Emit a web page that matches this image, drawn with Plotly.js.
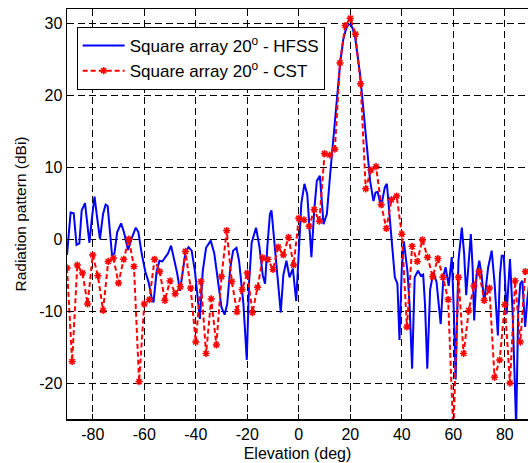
<!DOCTYPE html>
<html>
<head>
<meta charset="utf-8">
<script src="https://cdn.plot.ly/plotly-3.0.1.min.js"></script>
<style>html,body{margin:0;padding:0;background:#fff;}#chart{width:528px;height:463px;}</style>
</head>
<body>
<div id="chart"></div>
<script>
// HFSS (solid blue)
const elevHFSS = [-90,-89.3,-88.6,-87.4,-86.3,-85.2,-84.3,-83.0,-82.2,-81.3,-80.3,-79.3,-78.3,-77.2,-76,-75.0,-74.2,-73.3,-72.5,-71.6,-70.5,-69,-67.9,-66.3,-65.0,-63.3,-62.3,-61,-59.6,-58.3,-57.2,-56.4,-55.2,-54.1,-53,-52,-50.8,-49.6,-48.5,-47.3,-46.1,-45,-44,-42.8,-41.6,-40.3,-39.3,-38.4,-37.3,-36,-34.2,-32.8,-31.5,-30,-28.8,-27.8,-26.6,-25.5,-24.2,-23.2,-21.5,-20.2,-19.3,-18.3,-16.6,-15.3,-14,-13.1,-12.2,-11.2,-10.6,-9.6,-8.3,-7.0,-6,-4.8,-3.6,-2.3,-1.0,0,1,2.2,3.3,4.9,6,7,8.2,9.6,10.9,12.2,13.5,14.8,16.1,17.3,18.4,19.3,20.2,21.0,21.9,23.8,25.1,26.4,27.7,29,29.8,30.6,31.5,32.4,33.4,34.2,35.2,36.1,37.3,38.3,39.1,40.0,40.8,42.2,43.0,44.0,45.0,46.3,47.4,48.3,49.0,49.9,51.0,52.3,53.5,55.1,56.2,57.0,58.2,59.4,60.2,60.9,62,63.3,64.2,65.0,66.8,67.5,68.1,69,70.1,71.0,72.0,73.5,74.9,76,77.3,78.1,78.8,79.6,80.7,82.0,83,84.4,85.2,86.0,86.8,87.9,88.7,89.5];
const gainHFSS = [-2.2,1.5,3.7,3.6,-0.8,-0.6,4.0,5.0,2,-0.5,3,5.9,3,0,3.5,4.8,4.6,1,-2.3,-2.0,1,2.2,1,-1.5,0,1.6,1.0,-2,-4.5,-6.0,-8,-8.8,-4.5,-3.0,-3.1,-2.6,-2.0,-0.9,-2.5,-4.6,-7.2,-4.5,-1.8,-1.1,-1.6,-4.5,-8,-11.1,-4.5,-1.2,-0.2,-2,-5.5,-9.5,-10.5,-9,-4,-1.6,-1.2,-3,-9,-16.8,-6,-0.5,1.6,-1,-5,-6.2,-1,3.5,4.0,0,-5.5,-10.2,-5,-3.0,-5.3,-4.1,-8.6,-1,5,7.7,6.2,-2.5,4,8.1,8.8,2.1,3.5,9.1,14.6,19.7,24.6,27.8,29.3,29.8,29.9,29.2,28.0,22.9,17.8,12.3,8.1,5.3,6.5,6.6,5.2,5.3,7.2,7.7,4,-0.3,-5.3,-6.2,-14,-4,-0.3,-4.5,-9,-18,-5.3,-4.4,-5.1,-4.9,-9,-18,-7,-4.6,-6,-11.8,-5,-3.9,-6.5,-2.5,-10,-19.5,-3,1.6,-2,-7.8,0.7,-4,-11.3,-5,-3.0,-5,-8.8,-4,-1.6,-6,-13.4,-5,-2.3,-2.3,-10.4,-2.75,-10,-26,-10,-6.2,-5.8,-12.2,-8.5,-6];

// CST (dashed red with asterisks)
const elevCST = [-90,-88,-86,-84,-82,-80,-78,-76,-74,-72,-70,-68,-66,-64,-62,-60,-58,-56,-54,-52,-50,-48,-46,-44,-42,-40,-38,-36,-34,-32,-30,-28,-26,-24,-22,-20,-18,-16,-14,-12,-10,-8,-6,-4,-2,0,2,4,6,8,10,12,14,16,18,20,22,24,26,28,30,32,34,36,38,40,42,44,46,48,50,52,54,56,58,60,62,64,66,68,70,72,74,76,78,80,82,84,86,88];
const gainCST = [-4.0,-17.0,-3.6,-4.7,-9.0,-2.2,-5.1,-9.9,-3.1,-2.6,-6.1,-2.8,0.0,-3.8,-19.8,-9.0,-8.4,-2.8,-4.5,-8.5,-5.8,-7.6,-6.6,-1.7,-6.8,-14.3,-5.9,-15.9,-8.3,-14.7,-5.2,1.2,-5.9,-10.1,-7.0,-4.7,-10.2,-6.7,-2.6,-2.8,-4.2,-1.1,-2.2,0.25,-3.6,2.9,2.7,1.8,4.1,2.5,11.9,11.7,12.5,24.5,29.7,30.7,28.5,21.6,7.0,9.6,10.1,4.8,1.5,5.5,6.0,0.7,-12.2,-1.0,-3.1,-0.1,-2.5,-5.2,-2.7,-5.3,-8.4,-27,-5.3,-15.9,-9.9,-6.5,-4.5,-8.5,-6.8,-19.2,-16.8,-9.1,-20.0,-5.8,-14.3,-4.5];

const xTicks = [-80,-60,-40,-20,0,20,40,60,80];
const yTicks = [-20,-10,0,10,20,30];
const nameHFSS = 'Square array 20<sup>o</sup> - HFSS';
const nameCST = 'Square array 20<sup>o</sup> - CST';

const FONT = 'Liberation Sans, Arial, sans-serif';

const traces = [
  {x: elevHFSS, y: gainHFSS, name: nameHFSS, type: 'scatter', mode: 'lines',
   line: {color: '#0000ff', width: 2}},
  {x: elevCST, y: gainCST, name: nameCST, type: 'scatter', mode: 'lines+markers',
   line: {color: '#ff0000', width: 2, dash: '5px,3px'},
   marker: {symbol: 'asterisk-open', size: 6, color: '#ff0000', line: {color: '#ff0000', width: 1.5}}}
];

const layout = {
  width: 528, height: 463,
  margin: {l: 67, r: 0, t: 9, b: 44},
  paper_bgcolor: '#fff', plot_bgcolor: '#fff',
  font: {family: FONT, size: 16, color: '#000'},
  showlegend: true,
  legend: {x: 0.021, y: 0.956, xanchor: 'left', yanchor: 'top',
           bgcolor: '#fff', bordercolor: '#000', borderwidth: 1,
           font: {family: FONT, size: 17, color: '#000'}, itemwidth: 42},
  xaxis: {range: [-90, 89], tickvals: xTicks, ticktext: xTicks.map(String),
          tickfont: {family: FONT, size: 16},
          showgrid: true, gridcolor: '#000', gridwidth: 1, griddash: '7px,4px',
          zeroline: false, showline: true, linecolor: '#000', linewidth: 1.5,
          mirror: 'ticks', ticks: 'inside', ticklen: 5, tickcolor: '#000',
          title: {text: 'Elevation (deg)', font: {family: FONT, size: 16}, standoff: 6},
          automargin: false},
  yaxis: {range: [-25, 32], tickvals: yTicks, ticktext: yTicks.map(String),
          tickfont: {family: FONT, size: 16},
          showgrid: true, gridcolor: '#000', gridwidth: 1, griddash: '7px,4px',
          zeroline: false, showline: true, linecolor: '#000', linewidth: 1.5,
          mirror: false, ticks: 'inside', ticklen: 5, tickcolor: '#000',
          title: {text: 'Radiation pattern (dBi)', font: {family: FONT, size: 15.5}, standoff: 8},
          automargin: false}
};

Plotly.newPlot('chart', traces, layout, {displayModeBar: false, staticPlot: true});
</script>
</body>
</html>
